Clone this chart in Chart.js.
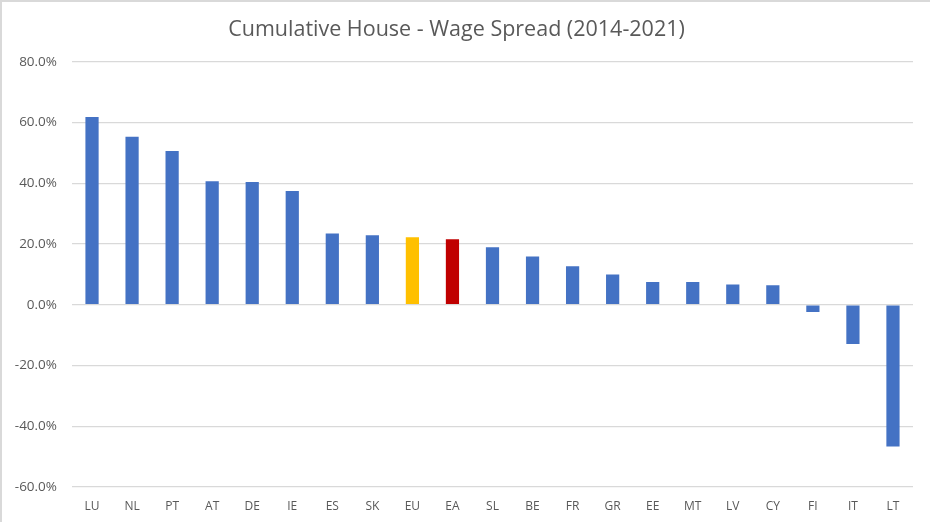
<!DOCTYPE html>
<html>
<head>
<meta charset="utf-8">
<script src="https://cdn.jsdelivr.net/npm/chart.js@4"></script>
<style>
    html, body { margin: 0; padding: 0; background: #fff; }
    #wrap { width: 930px; height: 522px; position: relative; }
</style>
</head>
<body>
<div id="wrap"><canvas id="spreadChart"></canvas></div>
<script>
// Cumulative house price minus wage growth, 2014-2021 (%)
const countries = ['LU', 'NL', 'PT', 'AT', 'DE', 'IE', 'ES', 'SK', 'EU', 'EA', 'SL',
    'BE', 'FR', 'GR', 'EE', 'MT', 'LV', 'CY', 'FI', 'IT', 'LT'];
const spread = [61.8, 55.3, 50.6, 40.7, 40.4, 37.5, 23.5, 22.9, 22.2, 21.6, 18.9,
    15.9, 12.7, 10.0, 7.5, 7.5, 6.7, 6.4, -2.4, -12.9, -46.7];
const yTicks = [-60, -40, -20, 0, 20, 40, 60, 80];

const BLUE = '#4472C4';
const highlight = { EU: '#FFC000', EA: '#C00000' };
const barColors = countries.map(c => highlight[c] || BLUE);

// light frame along the top and left edge like the original screenshot
const framePlugin = {
    id: 'frame',
    beforeDraw(chart) {
        const ctx = chart.ctx;
        ctx.save();
        ctx.strokeStyle = '#d9d9d9';
        ctx.lineWidth = 2;
        ctx.beginPath();
        ctx.moveTo(1, chart.height);
        ctx.lineTo(1, 1);
        ctx.lineTo(chart.width, 1);
        ctx.stroke();
        ctx.restore();
    }
};

const font = "'Open Sans', 'Liberation Sans', sans-serif";

new Chart(document.getElementById('spreadChart'), {
    type: 'bar',
    data: {
        labels: countries,
        datasets: [{
            label: 'Spread',
            data: spread,
            backgroundColor: barColors,
            borderWidth: 0,
            categoryPercentage: 1,
            barPercentage: 0.33
        }]
    },
    options: {
        responsive: true,
        maintainAspectRatio: false,
        animation: false,
        layout: { padding: { left: 0, right: 17, top: 0, bottom: 0 } },
        scales: {
            x: {
                grid: { display: false, drawTicks: false },
                border: { display: false },
                ticks: { color: '#595959', font: { family: font, size: 12 }, padding: 12, autoSkip: false, maxRotation: 0 },
                afterFit(scale) { scale.height = 35; }
            },
            y: {
                min: -60,
                max: 80,
                afterBuildTicks(scale) { scale.ticks = yTicks.map(v => ({ value: v })); },
                grid: { color: '#d9d9d9', lineWidth: 1.3, drawTicks: false },
                border: { display: false },
                ticks: {
                    color: '#595959',
                    font: { family: font, size: 13.5 },
                    padding: 15,
                    callback: v => v.toFixed(1) + '%'
                },
                afterFit(scale) { scale.width = 72; }
            }
        },
        plugins: {
            legend: { display: false },
            tooltip: { enabled: false },
            title: {
                display: true,
                text: 'Cumulative House - Wage Spread (2014-2021)',
                color: '#595959',
                font: { family: font, size: 21.5, weight: 'normal' },
                padding: { top: 17, bottom: 19 }
            }
        }
    },
    plugins: [framePlugin]
});
</script>
</body>
</html>
